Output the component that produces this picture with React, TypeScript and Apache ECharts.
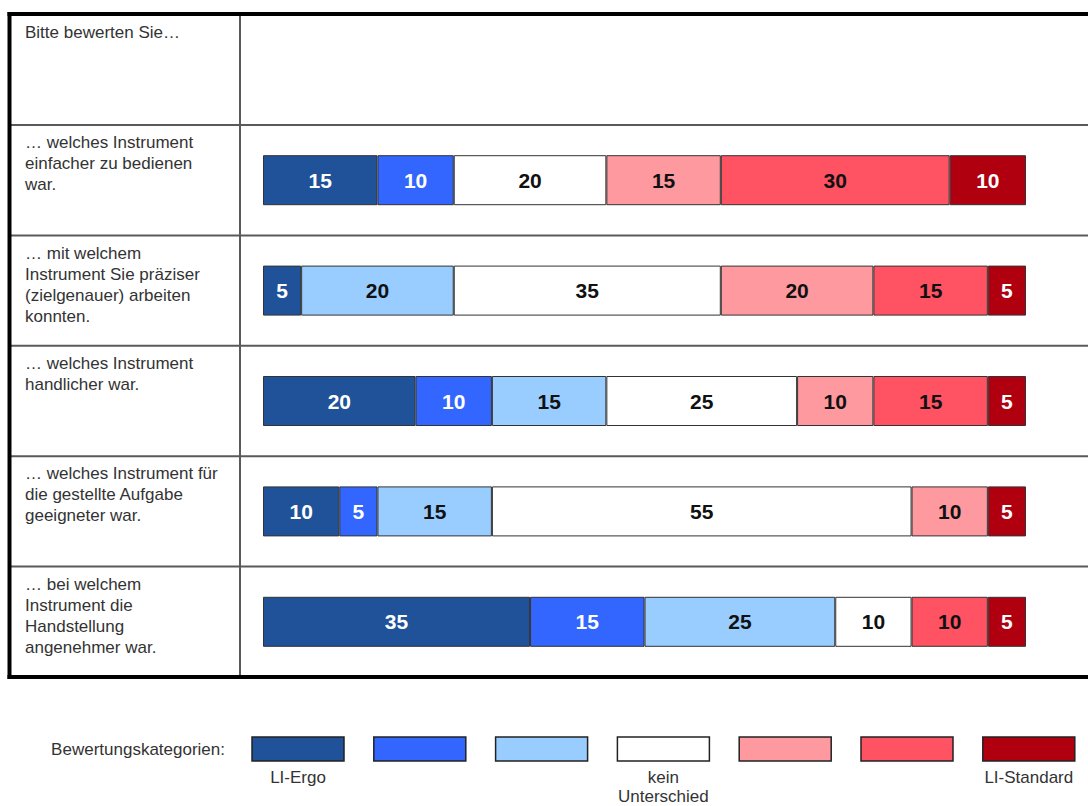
import React, { useEffect, useRef } from "react";
import * as echarts from "echarts";

const header = "Bitte bewerten Sie…";
const legendTitle = "Bewertungskategorien:";

const questions = [
  "… welches Instrument\neinfacher zu bedienen\nwar.",
  "… mit welchem\nInstrument Sie präziser\n(zielgenauer) arbeiten\nkonnten.",
  "… welches Instrument\nhandlicher war.",
  "… welches Instrument für\ndie gestellte Aufgabe\ngeeigneter war.",
  "… bei welchem\nInstrument die\nHandstellung\nangenehmer war.",
];

const levelNames = ["LI-Ergo", "2", "3", "kein Unterschied", "5", "6", "LI-Standard"];
const legendLabels = ["LI-Ergo", "", "", "kein\nUnterschied", "", "", "LI-Standard"];

const lvl1 = [15, 5, 20, 10, 35];
const lvl2 = [10, 0, 10, 5, 15];
const lvl3 = [0, 20, 15, 15, 25];
const lvl4 = [20, 35, 25, 55, 10];
const lvl5 = [15, 20, 10, 10, 0];
const lvl6 = [30, 15, 15, 0, 10];
const lvl7 = [10, 5, 5, 5, 5];

const levels = [lvl1, lvl2, lvl3, lvl4, lvl5, lvl6, lvl7];

const colors = ["#1F5299", "#3366FF", "#99CCFF", "#FFFFFF", "#FF99A0", "#FF5262", "#B0000F"];
const labelColors = ["#FFFFFF", "#FFFFFF", "#111111", "#111111", "#111111", "#111111", "#FFFFFF"];

const FONT = "'Liberation Sans', Arial, sans-serif";

export default function App() {
  const ref = useRef<HTMLDivElement>(null);

  useEffect(() => {
    if (!ref.current) return;
    const chart = echarts.init(ref.current, null, { renderer: "svg" });

    const W = 1088;
    const tableTop = 14;
    const gridTop = 125;
    const gridBottomY = 677;
    const rowH = (gridBottomY - gridTop) / questions.length;
    const gridLeft = 263;
    const gridRight = 1026;
    const lh = 21;

    const graphics: any[] = [];
    // header text
    graphics.push({
      type: "text",
      x: 25,
      y: 32,
      style: { text: header, font: `17px ${FONT}`, fill: "#333", verticalAlign: "middle" },
    });
    // thin row lines
    for (let i = 0; i < questions.length; i++) {
      const y = gridTop + i * rowH;
      graphics.push({
        type: "line",
        shape: { x1: 8, y1: y, x2: W, y2: y },
        style: { stroke: "#5a5a5a", lineWidth: 2 },
      });
    }
    // vertical divider
    graphics.push({
      type: "line",
      shape: { x1: 240, y1: tableTop, x2: 240, y2: gridBottomY },
      style: { stroke: "#5a5a5a", lineWidth: 2 },
    });
    // thick borders
    graphics.push({
      type: "line",
      shape: { x1: 7.5, y1: tableTop, x2: W, y2: tableTop },
      style: { stroke: "#000", lineWidth: 4 },
    });
    graphics.push({
      type: "line",
      shape: { x1: 7.5, y1: gridBottomY, x2: W, y2: gridBottomY },
      style: { stroke: "#000", lineWidth: 4 },
    });
    graphics.push({
      type: "line",
      shape: { x1: 9.5, y1: tableTop - 2, x2: 9.5, y2: gridBottomY + 2 },
      style: { stroke: "#000", lineWidth: 4 },
    });

    // legend
    graphics.push({
      type: "text",
      x: 225,
      y: 749,
      style: {
        text: legendTitle,
        font: `17px ${FONT}`,
        fill: "#333",
        align: "right",
        verticalAlign: "middle",
      },
    });
    const swX0 = 252;
    const swPitch = 121.8;
    const swW = 92;
    colors.forEach((c, i) => {
      const x = swX0 + i * swPitch;
      graphics.push({
        type: "rect",
        shape: { x, y: 737, width: swW, height: 24 },
        style: { fill: c, stroke: "#222", lineWidth: 1.5 },
      });
      if (legendLabels[i]) {
        graphics.push({
          type: "text",
          x: x + swW / 2,
          y: 768,
          style: {
            text: legendLabels[i],
            font: `17px ${FONT}`,
            fill: "#333",
            align: "center",
            verticalAlign: "top",
            lineHeight: 19,
          },
        });
      }
    });

    const series = levels.map((vals, i) => ({
      name: levelNames[i],
      type: "bar",
      stack: "total",
      barWidth: 50,
      data: vals.map((v) => (v === 0 ? null : v)),
      itemStyle: { color: colors[i], borderColor: "#333", borderWidth: 1 },
      label: {
        show: true,
        position: "inside",
        formatter: (p: any) => (p.value ? String(p.value) : ""),
        color: labelColors[i],
        fontWeight: "bold",
        fontSize: 21,
        fontFamily: FONT,
      },
    }));

    chart.setOption({
      animation: false,
      backgroundColor: "#fff",
      grid: {
        left: gridLeft,
        right: W - gridRight,
        top: gridTop,
        bottom: 806 - gridBottomY,
        containLabel: false,
      },
      xAxis: {
        type: "value",
        min: 0,
        max: 100,
        show: false,
      },
      yAxis: {
        type: "category",
        inverse: true,
        data: questions,
        axisLine: { show: false },
        axisTick: { show: false },
        splitLine: { show: false },
        axisLabel: {
          align: "left",
          verticalAlign: "top",
          margin: gridLeft - 25,
          padding: [-(37.5 + lh / 2), 0, 0, 0],
          lineHeight: lh,
          fontSize: 17,
          fontFamily: FONT,
          color: "#333",
        },
      },
      series,
      graphic: graphics,
    });

    return () => chart.dispose();
  }, []);

  return (
    <div
      ref={ref}
      style={{ position: "fixed", left: 0, top: 0, width: 1088, height: 806, background: "#fff" }}
    />
  );
}
